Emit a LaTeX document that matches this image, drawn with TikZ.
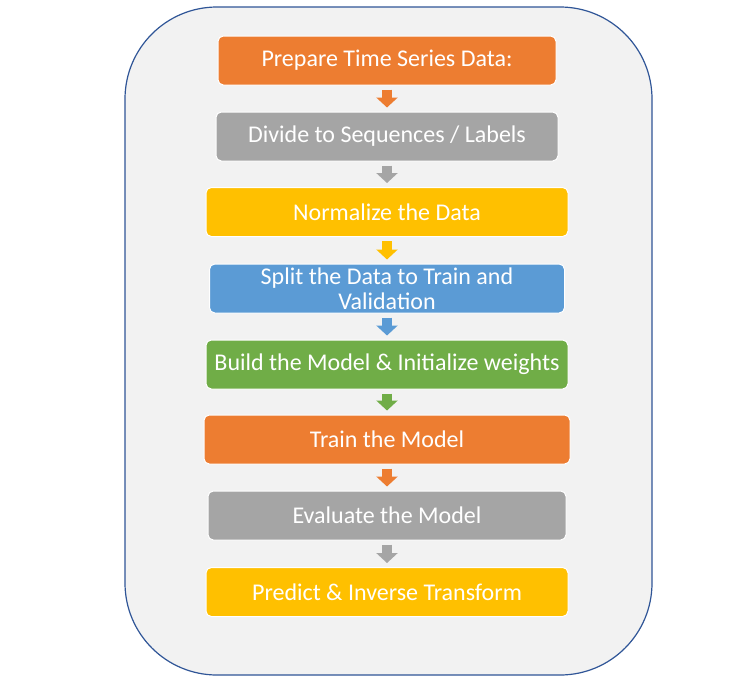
\documentclass[tikz,border=0pt]{standalone}
\usepackage{fontspec}
\setmainfont{Carlito}
\usetikzlibrary{arrows.meta}
\definecolor{corange}{HTML}{ED7D31}
\definecolor{cgray}{HTML}{A5A5A5}
\definecolor{cyellow}{HTML}{FFC000}
\definecolor{cblue}{HTML}{5B9BD5}
\definecolor{cgreen}{HTML}{70AD47}
\definecolor{bgpanel}{HTML}{F2F2F2}
\definecolor{frame}{HTML}{2F5597}
\begin{document}
\begin{tikzpicture}[x=0.75pt,y=-0.75pt,
  stepbox/.style={draw=white, line width=0.75pt, rounded corners=4pt, text=white,
    font=\fontsize{18}{18.75}\selectfont, minimum height=36.75pt, inner sep=0pt, align=center},
  flow/.style={line width=7.5pt, -{Triangle[width=15.75pt,length=7.5pt]}, shorten <=3pt, shorten >=3pt}]
\useasboundingbox (0,0) rectangle (735,686);
\draw[fill=bgpanel, draw=frame, line width=0.9pt, rounded corners=69pt] (125,7) rectangle (652,675);
\node[stepbox, fill=corange, minimum width=253.5pt] (s1) at (387,60.5) {Prepare Time Series Data:};
\node[stepbox, fill=cgray, minimum width=256.5pt] (s2) at (387,136.5) {Divide to Sequences / Labels};
\node[stepbox, fill=cyellow, minimum width=271.5pt] (s3) at (387,212) {Normalize the Data};
\node[stepbox, fill=cblue, minimum width=266.25pt] (s4) at (387,288.5) {Split the Data to Train and\\Validation};
\node[stepbox, fill=cgreen, minimum width=271.5pt] (s5) at (387,364.5) {Build the Model \& Initialize weights};
\node[stepbox, fill=corange, minimum width=274.5pt] (s6) at (387,439.5) {Train the Model};
\node[stepbox, fill=cgray, minimum width=268.5pt] (s7) at (387,515.5) {Evaluate the Model};
\node[stepbox, fill=cyellow, minimum width=271.5pt] (s8) at (387,592) {Predict \& Inverse Transform};
\draw[flow, corange] (s1.south) -- (s2.north);
\draw[flow, cgray] (s2.south) -- (s3.north);
\draw[flow, cyellow] (s3.south) -- (s4.north);
\draw[flow, cblue] (s4.south) -- (s5.north);
\draw[flow, cgreen] (s5.south) -- (s6.north);
\draw[flow, corange] (s6.south) -- (s7.north);
\draw[flow, cgray] (s7.south) -- (s8.north);
\end{tikzpicture}
\end{document}
